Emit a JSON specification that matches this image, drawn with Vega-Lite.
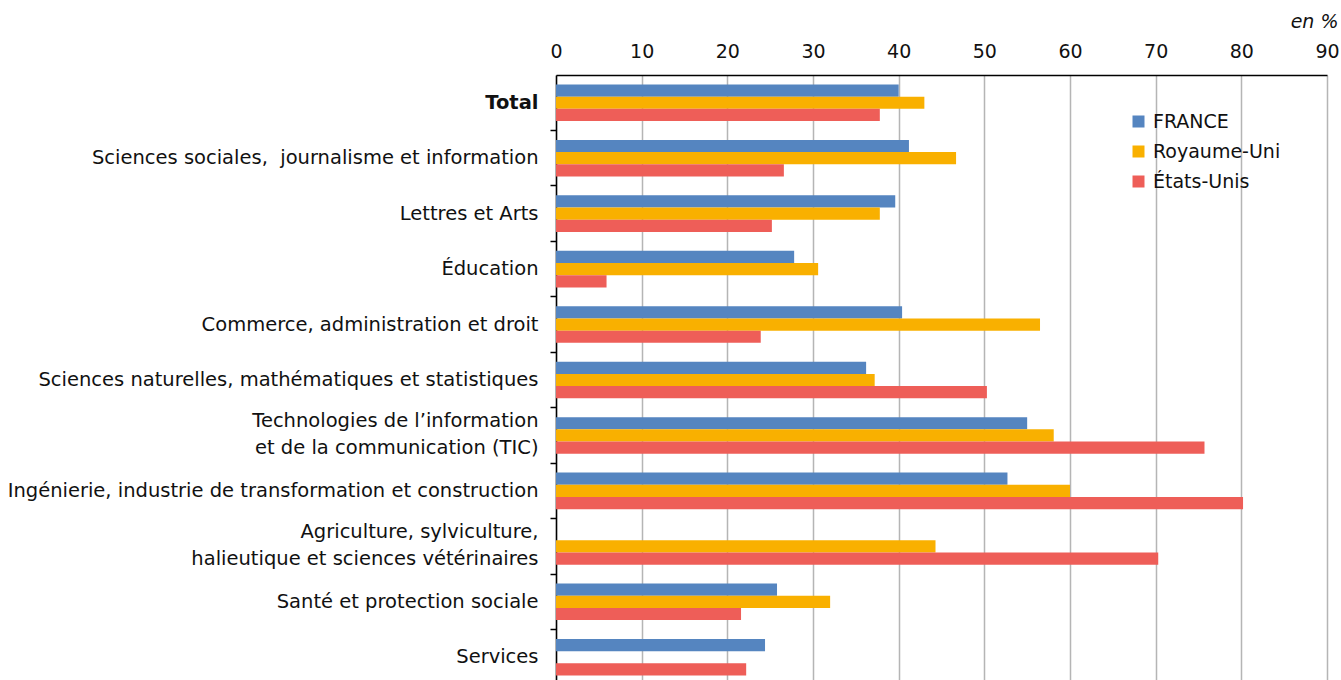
{
  "$schema": "https://vega.github.io/schema/vega-lite/v6.json",
  "width": 771,
  "height": 605,
  "autosize": {"type": "none"},
  "padding": {"left": 556, "top": 75, "right": 14, "bottom": 0},
  "config": {"font": "DejaVu Sans", "view": {"stroke": null}},
  "data": {"values": [
    {"cat": "Total", "pays": "FRANCE", "v": 40.0},
    {"cat": "Total", "pays": "Royaume-Uni", "v": 43.0},
    {"cat": "Total", "pays": "États-Unis", "v": 37.8},
    {"cat": "Sciences sociales,  journalisme et information", "pays": "FRANCE", "v": 41.2},
    {"cat": "Sciences sociales,  journalisme et information", "pays": "Royaume-Uni", "v": 46.7},
    {"cat": "Sciences sociales,  journalisme et information", "pays": "États-Unis", "v": 26.6},
    {"cat": "Lettres et Arts", "pays": "FRANCE", "v": 39.6},
    {"cat": "Lettres et Arts", "pays": "Royaume-Uni", "v": 37.8},
    {"cat": "Lettres et Arts", "pays": "États-Unis", "v": 25.2},
    {"cat": "Éducation", "pays": "FRANCE", "v": 27.8},
    {"cat": "Éducation", "pays": "Royaume-Uni", "v": 30.6},
    {"cat": "Éducation", "pays": "États-Unis", "v": 5.9},
    {"cat": "Commerce, administration et droit", "pays": "FRANCE", "v": 40.4},
    {"cat": "Commerce, administration et droit", "pays": "Royaume-Uni", "v": 56.5},
    {"cat": "Commerce, administration et droit", "pays": "États-Unis", "v": 23.9},
    {"cat": "Sciences naturelles, mathématiques et statistiques", "pays": "FRANCE", "v": 36.2},
    {"cat": "Sciences naturelles, mathématiques et statistiques", "pays": "Royaume-Uni", "v": 37.2},
    {"cat": "Sciences naturelles, mathématiques et statistiques", "pays": "États-Unis", "v": 50.3},
    {"cat": "Technologies de l’information|et de la communication (TIC)", "pays": "FRANCE", "v": 55.0},
    {"cat": "Technologies de l’information|et de la communication (TIC)", "pays": "Royaume-Uni", "v": 58.1},
    {"cat": "Technologies de l’information|et de la communication (TIC)", "pays": "États-Unis", "v": 75.7},
    {"cat": "Ingénierie, industrie de transformation et construction", "pays": "FRANCE", "v": 52.7},
    {"cat": "Ingénierie, industrie de transformation et construction", "pays": "Royaume-Uni", "v": 60.0},
    {"cat": "Ingénierie, industrie de transformation et construction", "pays": "États-Unis", "v": 80.2},
    {"cat": "Agriculture, sylviculture,|halieutique et sciences vétérinaires", "pays": "Royaume-Uni", "v": 44.3},
    {"cat": "Agriculture, sylviculture,|halieutique et sciences vétérinaires", "pays": "États-Unis", "v": 70.3},
    {"cat": "Santé et protection sociale", "pays": "FRANCE", "v": 25.8},
    {"cat": "Santé et protection sociale", "pays": "Royaume-Uni", "v": 32.0},
    {"cat": "Santé et protection sociale", "pays": "États-Unis", "v": 21.6},
    {"cat": "Services", "pays": "FRANCE", "v": 24.4},
    {"cat": "Services", "pays": "États-Unis", "v": 22.2}
  ]},
  "resolve": {"axis": {"y": "independent"}},
  "layer": [
    {
      "mark": {"type": "bar"},
      "encoding": {
        "y": {
          "field": "cat", "type": "nominal", "sort": null,
          "scale": {
            "domain": ["Total", "Sciences sociales,  journalisme et information", "Lettres et Arts", "Éducation", "Commerce, administration et droit", "Sciences naturelles, mathématiques et statistiques", "Technologies de l’information|et de la communication (TIC)", "Ingénierie, industrie de transformation et construction", "Agriculture, sylviculture,|halieutique et sciences vétérinaires", "Santé et protection sociale", "Services"],
            "range": [0, 610],
            "paddingInner": 0.34,
            "paddingOuter": 0.17
          },
          "axis": {
            "orient": "left",
            "title": null,
            "ticks": false,
            "domain": true,
            "domainColor": "#000000",
            "domainWidth": 1.5,
            "grid": false,
            "labelFontSize": 19.5,
            "labelColor": "#111111",
            "labelPadding": 18,
            "labelLimit": 600,
            "labelLineHeight": 27,
            "labelExpr": "split(replace(datum.label, ',  ', ',\u00a0 '), '|')",
            "labelBaseline": {"condition": {"test": "indexof(datum.value, '|') >= 0", "value": "line-bottom"}, "value": "middle"},
            "labelFontWeight": {"condition": {"test": "datum.value === 'Total'", "value": "bold"}, "value": "normal"}
          }
        },
        "yOffset": {
          "field": "pays", "type": "nominal",
          "sort": ["FRANCE", "Royaume-Uni", "États-Unis"],
          "scale": {"domain": ["FRANCE", "Royaume-Uni", "États-Unis"], "paddingInner": 0, "paddingOuter": 0}
        },
        "x": {
          "field": "v", "type": "quantitative",
          "scale": {"domain": [0, 90], "nice": false},
          "axis": {
            "orient": "top",
            "values": [0, 10, 20, 30, 40, 50, 60, 70, 80, 90],
            "grid": true,
            "gridColor": "#b5b5b5",
            "gridWidth": 1.5,
            "ticks": false,
            "domain": true,
            "domainColor": "#000000",
            "domainWidth": 1.5,
            "labelFontSize": 19,
            "labelColor": "#111111",
            "labelPadding": 14,
            "labelFlush": false,
            "title": "en %",
            "titleFontSize": 19,
            "titleFontStyle": "italic",
            "titleFontWeight": "normal",
            "titleColor": "#111111",
            "titleAlign": "right",
            "titleAnchor": "end",
            "titleX": 782,
            "titleY": -44
          }
        },
        "color": {
          "field": "pays", "type": "nominal",
          "scale": {"domain": ["FRANCE", "Royaume-Uni", "États-Unis"], "range": ["#5585c0", "#f9b000", "#ee5e58"]},
          "legend": {
            "title": null,
            "orient": "none",
            "legendX": 573,
            "legendY": 37,
            "symbolType": "square",
            "symbolSize": 144,
            "symbolStrokeWidth": 0,
            "labelFontSize": 19,
            "labelColor": "#111111",
            "labelOffset": 5,
            "rowPadding": 10
          }
        }
      }
    },
    {
      "mark": {"type": "bar", "opacity": 0},
      "encoding": {
        "y": {
          "field": "cat", "type": "nominal", "sort": null,
          "axis": {
            "orient": "left",
            "title": null,
            "labels": false,
            "domain": false,
            "grid": false,
            "ticks": true,
            "tickSize": 6,
            "tickColor": "#000000",
            "tickWidth": 1.5,
            "bandPosition": 1.258
          }
        },
        "x": {"field": "v", "type": "quantitative"}
      }
    }
  ]
}
